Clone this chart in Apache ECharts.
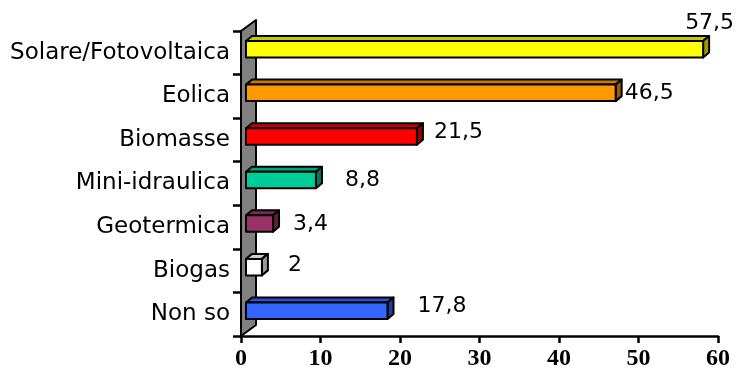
<!DOCTYPE html>
<html>
<head>
<meta charset="utf-8">
<script src="https://cdn.jsdelivr.net/npm/echarts@6/dist/echarts.min.js"></script>
<style>
  html, body { margin: 0; padding: 0; background: #fff; }
  #chart { width: 736px; height: 371px; }
</style>
</head>
<body>
<div id="chart"></div>
<script>
// --- data ---
const categories = ['Solare/Fotovoltaica', 'Eolica', 'Biomasse', 'Mini-idraulica', 'Geotermica', 'Biogas', 'Non so'];
const values = [57.5, 46.5, 21.5, 8.8, 3.4, 2, 17.8];
const valueLabels = ['57,5', '46,5', '21,5', '8,8', '3,4', '2', '17,8'];
const xTicks = [0, 10, 20, 30, 40, 50, 60];

// colours per bar: front, top, side
const barColors = [
    ['#FFFF00', '#C8C800', '#999900'],
    ['#FF9900', '#CC7A00', '#995C00'],
    ['#FF0000', '#CC0000', '#990000'],
    ['#00CC99', '#00A37A', '#007A5C'],
    ['#993366', '#7A2952', '#5C1F3D'],
    ['#FFFFFF', '#CCCCCC', '#999999'],
    ['#3366FF', '#2952CC', '#1F3D99']
];
// where Excel dropped each value label, relative to the bar's back corner
const labelNudges = [[-24, -26], [3, 0], [11, -4], [23, 0], [14, 1], [20, -2], [24, -4]];

/* ========================
    3D geometry helpers
========================= */
const FRONT_DX = 5, FRONT_DY = -3.5;   // bar front plane, from axis plane
const DEPTH_DX = 6, DEPTH_DY = -5;     // bar depth
const BAR_H = 16.5;
const WALL_DX = 15, WALL_DY = -11;

function renderWall(params, api) {
    const cs = params.coordSys;
    const x0 = cs.x, top = cs.y, bottom = cs.y + cs.height;
    return {
        type: 'polygon',
        shape: { points: [[x0, top], [x0 + WALL_DX, top + WALL_DY], [x0 + WALL_DX, bottom + WALL_DY], [x0, bottom]] },
        style: { fill: '#808080', stroke: '#000', lineWidth: 2, lineJoin: 'round' }
    };
}

function renderBar(params, api) {
    const idx = api.value(1);
    const v = api.value(0);
    const start = api.coord([0, idx]);
    const end = api.coord([v, idx]);
    const left = start[0] + FRONT_DX;
    const right = end[0] + FRONT_DX;
    const top = start[1] + FRONT_DY - BAR_H / 2;
    const bot = top + BAR_H;
    const c = barColors[idx];
    const stroke = { stroke: '#000', lineWidth: 2, lineJoin: 'round' };
    const nudge = labelNudges[idx];
    return {
        type: 'group',
        children: [
            {
                type: 'polygon',
                shape: { points: [[left, top], [left + DEPTH_DX, top + DEPTH_DY], [right + DEPTH_DX, top + DEPTH_DY], [right, top]] },
                style: Object.assign({ fill: c[1] }, stroke)
            },
            {
                type: 'polygon',
                shape: { points: [[right, top], [right + DEPTH_DX, top + DEPTH_DY], [right + DEPTH_DX, bot + DEPTH_DY], [right, bot]] },
                style: Object.assign({ fill: c[2] }, stroke)
            },
            {
                type: 'rect',
                shape: { x: left, y: top, width: right - left, height: BAR_H },
                style: Object.assign({ fill: c[0] }, stroke)
            },
            {
                type: 'text',
                x: right + DEPTH_DX + nudge[0],
                y: (top + bot) / 2 + nudge[1],
                style: {
                    text: valueLabels[idx],
                    fill: '#000',
                    font: '22px "DejaVu Sans"',
                    align: 'left',
                    verticalAlign: 'middle'
                }
            }
        ]
    };
}

const chart = echarts.init(document.getElementById('chart'));
chart.setOption({
    animation: false,
    backgroundColor: '#fff',
    grid: { left: 241, right: 18, top: 31, bottom: 31, containLabel: false },
    xAxis: {
        type: 'value',
        min: xTicks[0],
        max: xTicks[xTicks.length - 1],
        interval: xTicks[1] - xTicks[0],
        axisLine: { show: true, lineStyle: { color: '#000', width: 2.5 } },
        axisTick: { show: true, length: 7, lineStyle: { color: '#000', width: 2.5 } },
        splitLine: { show: false },
        axisLabel: {
            color: '#000',
            fontFamily: '"Liberation Serif", "Times New Roman", serif',
            fontWeight: 'bold',
            fontSize: 24,
            margin: 11
        }
    },
    yAxis: {
        type: 'category',
        data: categories,
        inverse: true,
        axisLine: { show: true, lineStyle: { color: '#000', width: 2.5 } },
        axisTick: { show: true, length: 8, alignWithLabel: false, lineStyle: { color: '#000', width: 2.5 } },
        axisLabel: {
            color: '#000',
            fontFamily: '"DejaVu Sans", Verdana, sans-serif',
            fontSize: 23,
            margin: 11,
            padding: [4, 0, 0, 0]
        }
    },
    series: [
        {
            type: 'custom',
            renderItem: renderWall,
            data: [[0, 0]],
            encode: { x: 0, y: 1 },
            z: 1,
            silent: true
        },
        {
            type: 'custom',
            renderItem: renderBar,
            data: values.map((v, i) => [v, i]),
            encode: { x: 0, y: 1 },
            z: 3,
            clip: false
        }
    ]
});
</script>
</body>
</html>
